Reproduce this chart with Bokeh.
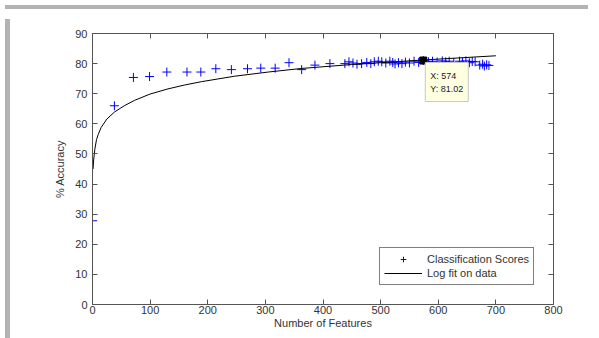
from bokeh.plotting import figure
from bokeh.models import (Range1d, FixedTicker, LinearAxis, Legend, LegendItem,
                          Label, Div, ColumnDataSource)
from bokeh.layouts import column, row
from bokeh.embed import file_html
from bokeh.resources import INLINE

# ---- data ----
features = [0, 0, 38, 71, 99, 129, 164, 188, 214, 241, 269, 292, 317, 341, 363,
            386, 412, 438, 445, 452, 459, 467, 476, 483, 489, 496, 502, 509, 516,
            521, 525, 531, 537, 543, 550, 558, 566, 574, 583, 590, 598, 607, 613,
            619, 627, 637, 642, 648, 654, 659, 664, 672, 677, 680, 684, 688]
accuracy = [0.0, 27.8, 66.0, 75.4, 75.7, 77.2, 77.2, 77.2, 78.3, 78.0, 78.3, 78.5,
            78.5, 80.3, 78.0, 79.5, 80.0, 80.0, 80.6, 80.2, 79.8, 80.0, 80.4, 80.0,
            80.6, 80.8, 80.6, 80.2, 80.8, 80.4, 79.9, 80.3, 80.0, 80.5, 80.2, 80.8,
            80.4, 81.02, 80.6, 80.8, 80.5, 80.9, 80.6, 80.8, 80.4, 80.8, 80.5, 80.9,
            80.3, 80.7, 80.6, 79.5, 79.8, 79.2, 79.6, 79.4]
fit_x = [1, 2, 4, 7, 10, 15, 25, 38, 55, 73, 100, 131, 160, 189, 246, 305, 363,
         450, 574, 700]
fit_y = [45.0, 48.0, 51.5, 54.8, 56.5, 58.8, 61.6, 63.9, 66.0, 67.8, 69.9, 71.6,
         72.9, 74.0, 75.8, 77.2, 78.4, 79.7, 81.2, 82.6]
tip_x = 574
tip_y = 81.02
x_ticks = [0, 100, 200, 300, 400, 500, 600, 700, 800]
y_ticks = [0, 10, 20, 30, 40, 50, 60, 70, 80, 90]

FONT = "Liberation Sans"
TXT = "#333333"
AX = "#555555"

p = figure(width=578, height=320, output_backend="svg", toolbar_location=None,
           x_range=Range1d(0, 800), y_range=Range1d(0, 90),
           min_border_left=77, min_border_right=40, min_border_top=19,
           min_border_bottom=30, background_fill_color="white",
           border_fill_color="white")
p.grid.visible = False
p.outline_line_color = AX

for ax, ticks in ((p.xaxis[0], x_ticks), (p.yaxis[0], y_ticks)):
    ax.ticker = FixedTicker(ticks=ticks)
    ax.major_tick_in = 5
    ax.major_tick_out = 0
    ax.minor_tick_line_color = None
    ax.axis_line_color = AX
    ax.major_tick_line_color = AX
    ax.major_label_text_font = FONT
    ax.major_label_text_font_size = "11px"
    ax.major_label_text_color = TXT
    ax.axis_label_text_font = FONT
    ax.axis_label_text_font_size = "11px"
    ax.axis_label_text_font_style = "normal"
    ax.axis_label_text_color = TXT

p.xaxis.axis_label = "Number of Features"
p.yaxis.axis_label = "% Accuracy"
p.xaxis.major_label_standoff = 1
p.xaxis.axis_label_standoff = 0
p.yaxis.major_label_standoff = 5
p.yaxis.axis_label_standoff = 6

for loc, ticks in (("right", y_ticks), ("above", x_ticks)):
    ax = LinearAxis(ticker=FixedTicker(ticks=ticks))
    ax.major_tick_in = 5
    ax.major_tick_out = 0
    ax.minor_tick_line_color = None
    ax.axis_line_color = AX
    ax.major_tick_line_color = AX
    ax.major_label_text_font_size = "1px"
    ax.major_label_text_color = None
    ax.major_label_standoff = 0
    p.add_layout(ax, loc)

src = ColumnDataSource(dict(x=features, y=accuracy))
pts = p.scatter("x", "y", source=src, marker="cross", size=9, line_color="blue",
                line_width=1)
fit = p.line(fit_x, fit_y, line_color="black", line_width=1)

p.scatter([tip_x], [tip_y], marker="square", size=7, fill_color="black",
          line_color="black")
p.add_layout(Label(x=tip_x, y=tip_y, x_offset=2, y_offset=-2,
                   text="X: %d\nY: %.2f" % (tip_x, tip_y),
                   text_font=FONT, text_font_size="9px", text_color="#222222",
                   text_align="left", text_baseline="top", text_line_height=1.3,
                   background_fill_color="#ffffe1", border_line_color="#c8c8c8",
                   padding=dict(x=5, y=8)))

legend = Legend(items=[LegendItem(label="Classification Scores", renderers=[pts]),
                       LegendItem(label="Log fit on data", renderers=[fit])],
                location=(287, 19), margin=0, padding=4, spacing=0,
                glyph_width=38, glyph_height=14, label_height=14,
                label_standoff=5, label_text_font=FONT,
                label_text_font_size="11px", label_text_color=TXT,
                border_line_color="black", border_line_width=1,
                background_fill_color="white")
p.add_layout(legend, "center")

top_band = Div(text="", width=583, height=4,
               styles={"background-color": "#b3b3b3"})
left_band = Div(text="", width=5, height=320,
                styles={"background-color": "#b3b3b3"})
layout = column(top_band, row(left_band, p, spacing=0), spacing=0)

open("out.html", "w").write(file_html(layout, INLINE))
